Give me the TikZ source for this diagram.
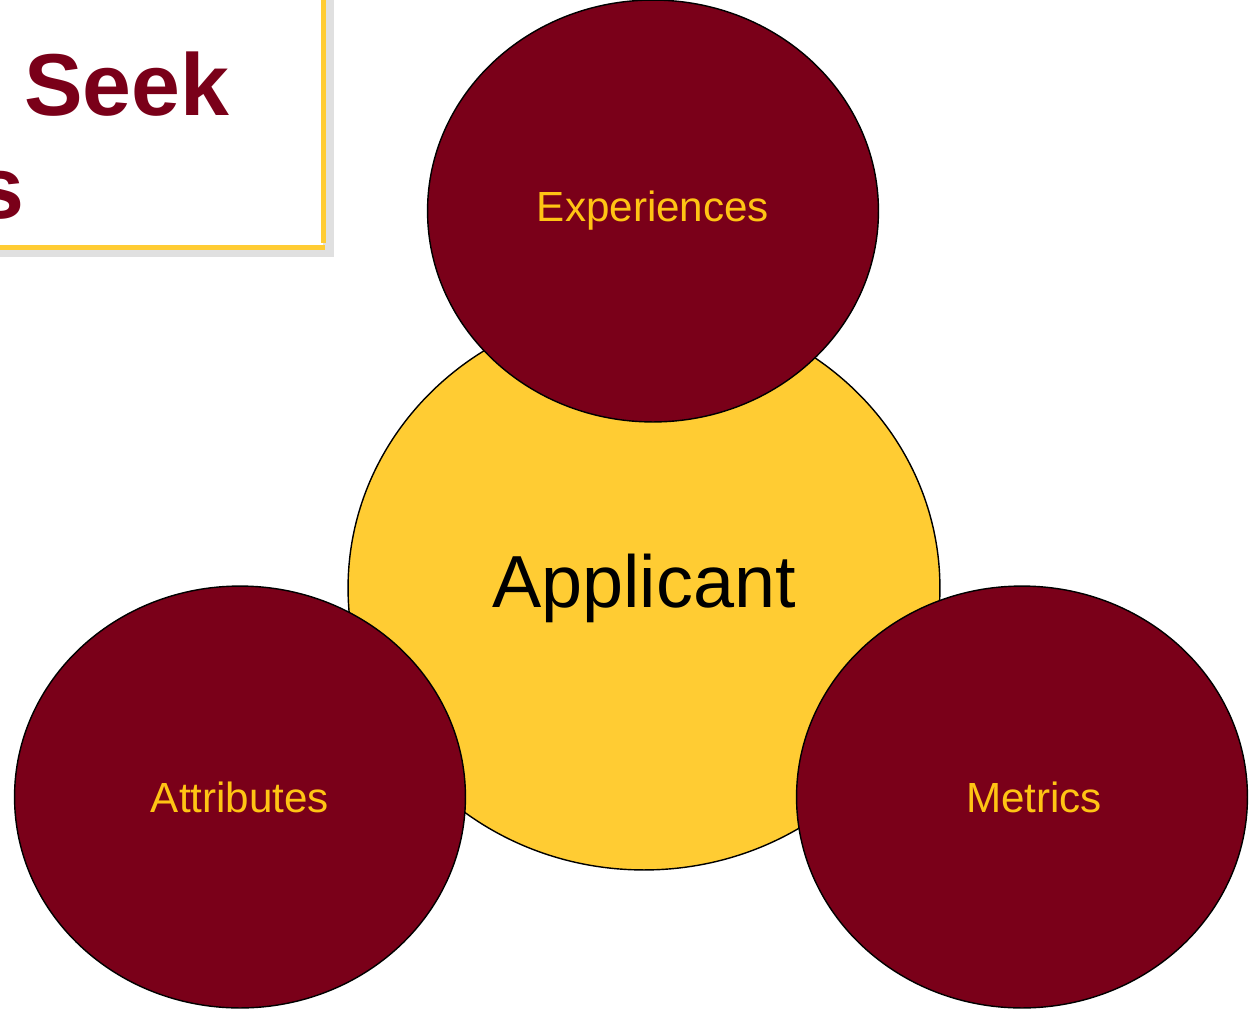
\documentclass[tikz,border=0pt]{standalone}
\usepackage{fontspec}
\setmainfont{Liberation Sans}
\usetikzlibrary{shapes.geometric}
\definecolor{maroon}{RGB}{122,0,25}
\definecolor{gold}{RGB}{255,204,51}
\definecolor{goldtext}{RGB}{255,196,20}
\tikzset{
  hub/.style={ellipse,draw=black,line width=0.8pt,fill=gold,inner sep=0pt,
    minimum width=11.84cm,minimum height=11.28cm,
    font=\fontsize{42}{48}\selectfont},
  petal/.style={ellipse,draw=black,line width=0.8pt,fill=maroon,inner sep=0pt,
    minimum width=9.02cm,minimum height=8.44cm,text=goldtext,
    font=\fontsize{24}{28}\selectfont},
  titletext/.style={inner sep=0pt,text=maroon,
    font=\fontsize{50}{60}\selectfont\bfseries}
}

\begin{document}
\begin{tikzpicture}[x=0.02cm,y=-0.02cm]
  \useasboundingbox (0,0) rectangle (1249,1012);
  \clip (0,0) rectangle (1249,1012);

  % title box
  \fill[black!25] (-400,-100) rectangle (331,254);
  \fill[black!12] (-400,-100) rectangle (334,257);
  \fill[white] (-400,-100) rectangle (323,247);
  \draw[gold,line width=3pt] (323.5,0) -- (323.5,243);
  \draw[gold,line width=3pt] (0,247.5) -- (325,247.5);
  \node[titletext,anchor=base west] (seek) at (24,115) {Seek};
  \node[titletext,anchor=base east] (tail) at (25,218) {s};

  % circles
  \node[hub] (applicant) at (644,588) {Applicant};
  \node[petal] (experiences) at (653,211) {Experiences};
  \node[petal] (attributes) at (240,797) {Attributes};
  \node[petal] (metrics) at (1022,797) {\hspace{0.48cm}Metrics};
\end{tikzpicture}
\end{document}
